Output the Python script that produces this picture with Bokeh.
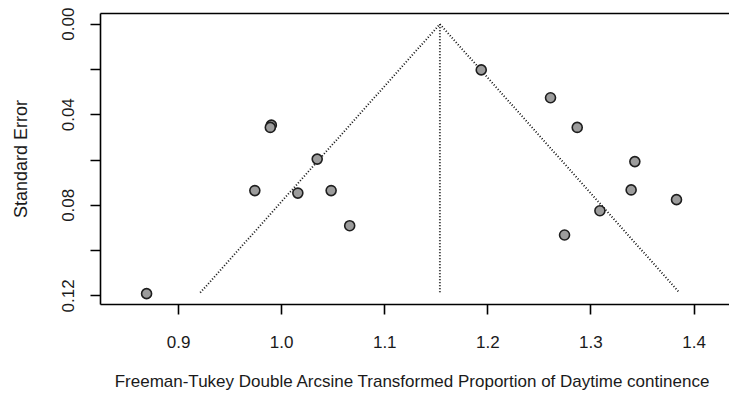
from bokeh.plotting import figure
from bokeh.models import Range1d, FixedTicker, LinearAxis, ColumnDataSource
from bokeh.embed import file_html
from bokeh.resources import INLINE

# Study effects (Freeman-Tukey transformed proportions) and standard errors
effect = [0.869, 0.990, 0.989, 1.0345, 0.974, 1.0157, 1.048, 1.066,
          1.1936, 1.2608, 1.2867, 1.3426, 1.339, 1.383, 1.3087, 1.2744]
std_err = [0.119, 0.0446, 0.0456, 0.0596, 0.0735, 0.0746, 0.0735, 0.089,
           0.0202, 0.0325, 0.0456, 0.0607, 0.0732, 0.0775, 0.0824, 0.0931]

pooled = 1.1535
funnel_se_max = 0.1186
z = 1.96

x_ticks = [0.9, 1.0, 1.1, 1.2, 1.3, 1.4]
x_tick_labels = {0.9: "0.9", 1.0: "1.0", 1.1: "1.1", 1.2: "1.2", 1.3: "1.3", 1.4: "1.4"}
y_ticks = [0.0, 0.02, 0.04, 0.06, 0.08, 0.10, 0.12]
y_tick_labels = {0.0: "0.00", 0.02: "", 0.04: "0.04", 0.06: "", 0.08: "0.08", 0.10: "", 0.12: "0.12"}

FONT = "Liberation Sans"

p = figure(width=729, height=396, output_backend="svg", toolbar_location=None,
           x_range=Range1d(0.8243, 1.4344), y_range=Range1d(0.1238, -0.0047),
           min_border_left=100, min_border_top=13, min_border_bottom=92, min_border_right=0)
p.outline_line_color = None
p.xgrid.visible = False
p.ygrid.visible = False
p.background_fill_color = "white"
p.border_fill_color = "white"

# funnel lines
lo = pooled - z * funnel_se_max
hi = pooled + z * funnel_se_max
p.line([lo, pooled, hi], [funnel_se_max, 0.0, funnel_se_max], line_color="#111111",
       line_dash="1 2", line_width=1.9)
p.line([pooled, pooled], [0.0, funnel_se_max], line_color="#111111",
       line_dash="1 2", line_width=1.9)

src = ColumnDataSource(dict(x=effect, y=std_err))
p.scatter("x", "y", source=src, size=10, fill_color="#9c9c9c", line_color="#1e1e1e",
          line_width=1.6)

# axes
xa = p.xaxis[0]
xa.ticker = FixedTicker(ticks=x_ticks)
xa.major_label_overrides = x_tick_labels
xa.axis_label = "Freeman-Tukey  Double Arcsine Transformed Proportion of Daytime continence"
ya = p.yaxis[0]
ya.ticker = FixedTicker(ticks=y_ticks)
ya.major_label_overrides = y_tick_labels
ya.axis_label = "Standard Error"
ya.major_label_orientation = "vertical"

for ax in (xa, ya):
    ax.axis_line_color = "black"
    ax.axis_line_width = 1.6
    ax.major_tick_line_color = "black"
    ax.major_tick_line_width = 1.6
    ax.major_tick_out = 10
    ax.major_tick_in = 0
    ax.minor_tick_line_color = None
    ax.major_label_text_font = FONT
    ax.major_label_text_font_size = "17px"
    ax.major_label_text_color = "#1a1a1a"
    ax.axis_label_text_font = FONT
    ax.axis_label_text_font_style = "normal"
    ax.axis_label_text_color = "#1a1a1a"

xa.major_label_standoff = 21
xa.axis_label_text_font_size = "17px"
xa.axis_label_standoff = 21
ya.major_label_standoff = 16
ya.axis_label_text_font_size = "18px"
ya.axis_label_standoff = 29

top = LinearAxis(ticker=FixedTicker(ticks=[]), major_label_text_font_size="0px",
                 axis_line_color="black", axis_line_width=1.6, major_tick_line_color=None,
                 minor_tick_line_color=None)
p.add_layout(top, "above")

open("out.html", "w").write(file_html(p, INLINE))
